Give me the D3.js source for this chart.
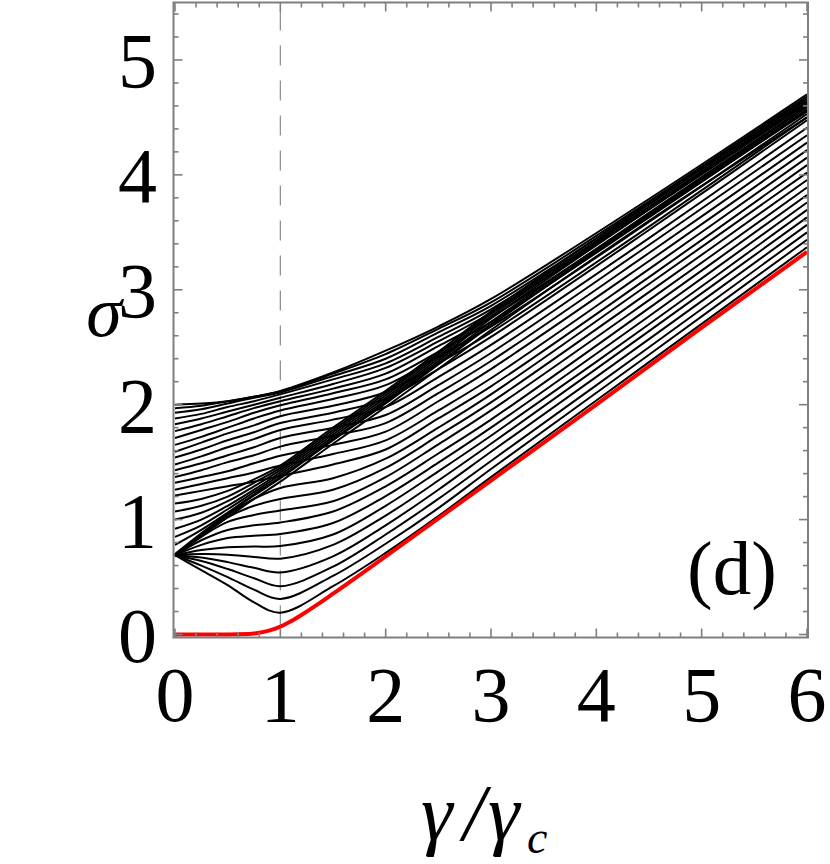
<!DOCTYPE html>
<html>
<head>
<meta charset="utf-8">
<script src="https://cdn.jsdelivr.net/npm/d3@7"></script>
<style>
  html, body { margin: 0; padding: 0; background: #fff; }
  svg { display: block; }
  text { font-family: "Liberation Serif", "Times New Roman", serif; fill: #000; }
</style>
</head>
<body>
<svg id="chart" width="830" height="864"></svg>
<script>
// ---- data ----
const xGrid = [0, 0.25, 0.5, 0.75, 1, 1.5, 2, 2.5, 3, 4.5, 6];

// lower fan of curves, all starting at sigma ~ 0.69
const curvesFan = [
  [0.69, 0.56, 0.43, 0.28, 0.19, 0.42, 0.71, 1.03, 1.37, 2.37, 3.37],
  [0.69, 0.60, 0.50, 0.39, 0.31, 0.51, 0.79, 1.10, 1.44, 2.435, 3.435],
  [0.69, 0.64, 0.57, 0.49, 0.42, 0.59, 0.87, 1.18, 1.51, 2.50, 3.50],
  [0.69, 0.67, 0.63, 0.58, 0.54, 0.68, 0.95, 1.26, 1.59, 2.57, 3.565],
  [0.69, 0.70, 0.695, 0.675, 0.66, 0.78, 1.035, 1.34, 1.66, 2.64, 3.63],
  [0.69, 0.735, 0.76, 0.765, 0.77, 0.87, 1.12, 1.42, 1.73, 2.70, 3.695],
  [0.69, 0.78, 0.84, 0.86, 0.875, 0.97, 1.205, 1.495, 1.80, 2.77, 3.76],
  [0.69, 0.82, 0.91, 0.95, 0.975, 1.07, 1.29, 1.575, 1.87, 2.84, 3.825],
  [0.69, 0.85, 0.98, 1.04, 1.08, 1.16, 1.37, 1.655, 1.95, 2.91, 3.89],
  [0.69, 0.86, 1.02, 1.12, 1.18, 1.26, 1.45, 1.73, 2.02, 2.98, 3.955],
  [0.69, 0.87, 1.04, 1.18, 1.275, 1.36, 1.53, 1.80, 2.09, 3.05, 4.02]
];

// upper curves, starting between 1.2 and 2.0
const curvesUpper = [
  [1.21, 1.25, 1.29, 1.33, 1.38, 1.48, 1.61, 1.88, 2.16, 3.11, 4.085],
  [1.26, 1.31, 1.36, 1.41, 1.47, 1.57, 1.69, 1.95, 2.23, 3.18, 4.15],
  [1.32, 1.37, 1.42, 1.49, 1.555, 1.65, 1.765, 2.03, 2.31, 3.25, 4.215],
  [1.37, 1.43, 1.50, 1.56, 1.635, 1.73, 1.84, 2.10, 2.38, 3.32, 4.28],
  [1.43, 1.49, 1.56, 1.63, 1.71, 1.80, 1.91, 2.17, 2.45, 3.39, 4.345],
  [1.48, 1.55, 1.63, 1.70, 1.78, 1.87, 1.98, 2.24, 2.52, 3.45, 4.41],
  [1.54, 1.61, 1.69, 1.76, 1.84, 1.93, 2.05, 2.31, 2.59, 3.52, 4.475],
  [1.59, 1.67, 1.75, 1.82, 1.90, 1.99, 2.11, 2.36, 2.63, 3.55, 4.50],
  [1.65, 1.72, 1.80, 1.88, 1.95, 2.05, 2.17, 2.42, 2.68, 3.59, 4.53],
  [1.71, 1.78, 1.85, 1.93, 1.995, 2.10, 2.22, 2.46, 2.72, 3.63, 4.56],
  [1.77, 1.83, 1.90, 1.97, 2.03, 2.14, 2.27, 2.51, 2.76, 3.66, 4.59],
  [1.83, 1.88, 1.94, 2.00, 2.06, 2.18, 2.32, 2.55, 2.80, 3.70, 4.62],
  [1.88, 1.92, 1.98, 2.03, 2.09, 2.22, 2.36, 2.59, 2.83, 3.72, 4.64],
  [1.93, 1.96, 2.01, 2.06, 2.105, 2.25, 2.40, 2.63, 2.86, 3.75, 4.66],
  [1.97, 1.99, 2.03, 2.07, 2.115, 2.27, 2.44, 2.66, 2.89, 3.77, 4.68],
  [2.00, 2.01, 2.03, 2.07, 2.12, 2.28, 2.47, 2.68, 2.92, 3.79, 4.70]
];

// steep diagonal bundle
const curvesDiag = [
  [0.68, 0.86, 1.02, 1.18, 1.33, 1.66, 1.98, 2.31, 2.65, 3.60, 4.50],
  [0.70, 0.88, 1.05, 1.21, 1.36, 1.69, 2.01, 2.35, 2.69, 3.64, 4.55],
  [0.78, 0.91, 1.06, 1.22, 1.37, 1.70, 2.02, 2.36, 2.70, 3.65, 4.57],
  [0.85, 0.95, 1.09, 1.24, 1.39, 1.72, 2.04, 2.38, 2.72, 3.67, 4.60],
  [0.92, 1.00, 1.12, 1.26, 1.41, 1.74, 2.06, 2.40, 2.75, 3.70, 4.62],
  [1.00, 1.06, 1.16, 1.29, 1.43, 1.76, 2.08, 2.42, 2.77, 3.72, 4.64],
  [1.07, 1.12, 1.20, 1.32, 1.45, 1.78, 2.10, 2.44, 2.79, 3.74, 4.66],
  [1.14, 1.18, 1.25, 1.35, 1.47, 1.80, 2.12, 2.46, 2.81, 3.76, 4.68]
];

// red curve
const redX = [0, 0.5, 0.7, 0.8, 0.9, 1.0, 1.1, 1.2, 1.35, 1.5, 2, 3, 4, 5, 6];
const redY = [0, 0, 0.004, 0.016, 0.036, 0.068, 0.115, 0.17, 0.26, 0.355, 0.68, 1.34, 2.0, 2.67, 3.33];

const xTicks = [0, 1, 2, 3, 4, 5, 6];
const yTicks = [0, 1, 2, 3, 4, 5];
const xMinor = d3.range(0, 6.0001, 0.2);
const yMinor = d3.range(0, 5.5001, 0.2);
const markerX = 1;

// ---- drawing ----
const svg = d3.select("#chart");
const x = d3.scaleLinear().domain([0, 6]).range([175, 807]);
const y = d3.scaleLinear().domain([0, 5.5]).range([634.5, 2.5]);
const F = { left: 173.5, right: 808, top: 2.5, bottom: 637.5 };

svg.append("clipPath").attr("id", "plotclip")
  .append("rect").attr("x", F.left).attr("y", F.top)
  .attr("width", F.right - F.left).attr("height", F.bottom - F.top);

const plot = svg.append("g").attr("clip-path", "url(#plotclip)");

// dashed marker line
plot.append("line")
  .attr("x1", x(markerX)).attr("x2", x(markerX))
  .attr("y1", F.top).attr("y2", F.bottom)
  .attr("stroke", "#8a8a8a").attr("stroke-width", 1.2)
  .attr("stroke-dasharray", "20,15").attr("stroke-dashoffset", -8);

const blackLine = d3.line()
  .x(d => x(d[0])).y(d => y(d[1]))
  .curve(d3.curveCatmullRom.alpha(0.5));
const redLine = d3.line()
  .x(d => x(d[0])).y(d => y(d[1]))
  .curve(d3.curveMonotoneX);

const allBlack = curvesFan.concat(curvesUpper, curvesDiag);
plot.selectAll("path.black").data(allBlack).join("path")
  .attr("class", "black")
  .attr("d", row => blackLine(row.map((v, i) => [xGrid[i], v])))
  .attr("fill", "none").attr("stroke", "#000").attr("stroke-width", 2);

plot.append("path")
  .attr("d", redLine(redX.map((v, i) => [v, redY[i]])))
  .attr("fill", "none").attr("stroke", "#ff0000").attr("stroke-width", 4);

// frame
const frameColor = "#7f7f7f";
svg.append("rect")
  .attr("x", F.left).attr("y", F.top)
  .attr("width", F.right - F.left).attr("height", F.bottom - F.top)
  .attr("fill", "none").attr("stroke", frameColor).attr("stroke-width", 2);

// ticks
const tickG = svg.append("g").attr("stroke", frameColor).attr("stroke-width", 1.6);
const isMajor = v => Math.abs(v - Math.round(v)) < 1e-6;
xMinor.forEach(v => {
  const L = isMajor(v) ? 9 : 5;
  tickG.append("line").attr("x1", x(v)).attr("x2", x(v)).attr("y1", F.bottom).attr("y2", F.bottom - L);
  tickG.append("line").attr("x1", x(v)).attr("x2", x(v)).attr("y1", F.top).attr("y2", F.top + L);
});
yMinor.forEach(v => {
  const L = isMajor(v) ? 9 : 5;
  tickG.append("line").attr("x1", F.left).attr("x2", F.left + L).attr("y1", y(v)).attr("y2", y(v));
  tickG.append("line").attr("x1", F.right).attr("x2", F.right - L).attr("y1", y(v)).attr("y2", y(v));
});

// tick labels
svg.selectAll("text.xt").data(xTicks).join("text")
  .attr("class", "xt")
  .attr("x", d => x(d)).attr("y", 721)
  .attr("text-anchor", "middle").attr("font-size", 78)
  .text(d => d);

svg.selectAll("text.yt").data(yTicks).join("text")
  .attr("class", "yt")
  .attr("x", 157).attr("y", d => y(d) + 27)
  .attr("text-anchor", "end").attr("font-size", 78)
  .text(d => d);

// axis labels
const xl = svg.append("text").attr("y", 840).attr("font-size", 80).attr("font-style", "italic");
xl.append("tspan").attr("x", 421).text("γ");
xl.append("tspan").attr("x", 463).text("/");
xl.append("tspan").attr("x", 488).text("γ");
xl.append("tspan").attr("x", 527).attr("font-size", 46).attr("dy", 13).text("c");

svg.append("text").attr("x", 104).attr("y", 336)
  .attr("text-anchor", "middle").attr("font-size", 72).attr("font-style", "italic")
  .text("σ");

svg.append("text").attr("x", 687).attr("y", 594).attr("font-size", 77).text("(d)");
</script>
</body>
</html>
